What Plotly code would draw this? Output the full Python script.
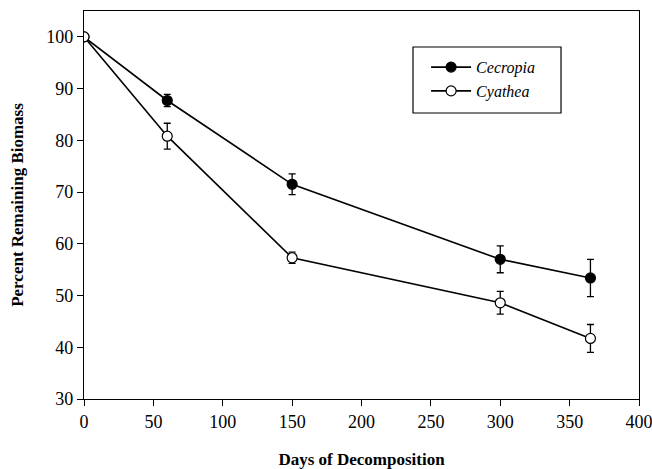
import plotly.graph_objects as go

days = [0, 60, 150, 300, 365]
cecropia = [100, 87.7, 71.5, 57.0, 53.4]
cecropia_err = [0, 1.2, 2.0, 2.6, 3.6]
cyathea = [100, 80.8, 57.3, 48.6, 41.7]
cyathea_err = [0, 2.5, 1.1, 2.2, 2.7]

x_ticks = [0, 50, 100, 150, 200, 250, 300, 350, 400]
y_ticks = [30, 40, 50, 60, 70, 80, 90, 100]

FONT = "Liberation Serif, Times New Roman, serif"

fig = go.Figure()
fig.add_trace(go.Scatter(
    x=days, y=cecropia, name="<i>Cecropia</i>", mode="lines+markers",
    line=dict(color="black", width=1.6),
    marker=dict(symbol="circle", size=10, color="black", line=dict(color="black", width=1.2)),
    error_y=dict(type="data", array=cecropia_err, visible=True, color="black", thickness=1.3, width=3.5),
))
fig.add_trace(go.Scatter(
    x=days, y=cyathea, name="<i>Cyathea</i>", mode="lines+markers",
    line=dict(color="black", width=1.6),
    marker=dict(symbol="circle", size=10, color="white", line=dict(color="black", width=1.2)),
    error_y=dict(type="data", array=cyathea_err, visible=True, color="black", thickness=1.3, width=3.5),
))

# legend frame
fig.add_shape(type="rect", xref="paper", yref="paper",
              x0=0.5928, x1=0.8595, y0=0.7371, y1=0.9072,
              line=dict(color="black", width=1.2), fillcolor="white", layer="below")

fig.update_layout(
    width=652, height=469,
    margin=dict(l=84, r=13, t=11, b=70),
    paper_bgcolor="white", plot_bgcolor="white",
    font=dict(family=FONT, size=18, color="black"),
    showlegend=True,
    legend=dict(
        x=0.6164, y=0.899, xanchor="left", yanchor="top",
        borderwidth=0, bgcolor="rgba(0,0,0,0)",
        font=dict(family=FONT, size=16, color="black"),
        itemwidth=40,
    ),
    xaxis=dict(
        range=[0, 400], tickvals=x_ticks, ticks="outside", ticklen=6, tickwidth=1,
        tickcolor="black", showline=True, linecolor="black", linewidth=1.3, mirror=True,
        showgrid=False, zeroline=False, automargin=False, ticklabeloverflow="allow",
        title=dict(text="<b>Days of Decomposition</b>", font=dict(family=FONT, size=17), standoff=23),
        tickfont=dict(family=FONT, size=18),
    ),
    yaxis=dict(
        range=[30, 105], tickvals=y_ticks, ticks="outside", ticklen=6, tickwidth=1,
        tickcolor="black", showline=True, linecolor="black", linewidth=1.3, mirror=True,
        showgrid=False, zeroline=False, automargin=False,
        title=dict(text="<b>Percent Remaining Biomass</b>", font=dict(family=FONT, size=17), standoff=18),
        tickfont=dict(family=FONT, size=18),
    ),
)

fig.write_html(
    "out.html",
    config={"displayModeBar": False},
    post_script="document.body.style.margin='0';document.body.style.overflow='hidden';",
)
